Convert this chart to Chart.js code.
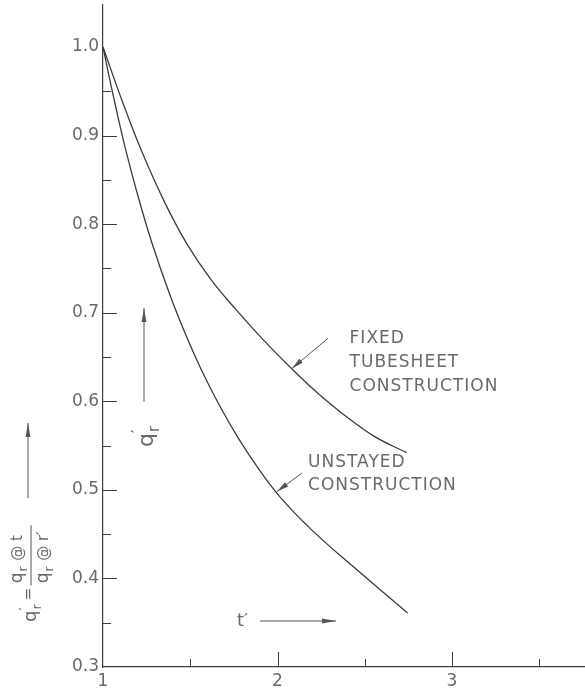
<!DOCTYPE html>
<html><head><meta charset="utf-8">
<script src="https://cdn.jsdelivr.net/npm/chart.js@4.4.1/dist/chart.umd.min.js"></script>
<style>html,body{margin:0;padding:0;background:#fff;overflow:hidden}#wrap{width:585px;height:691px;position:relative}</style>
</head><body><div id="wrap"><canvas id="c" width="585" height="691"></canvas></div>
<script>
// ---- data ----
const tFixed = [1.00, 1.11, 1.22, 1.35, 1.48, 1.62, 1.76, 1.92, 2.08, 2.22, 2.36, 2.55, 2.74];
const qFixed = [1.000, 0.939, 0.883, 0.826, 0.778, 0.737, 0.704, 0.669, 0.637, 0.611, 0.588, 0.561, 0.542];
const tUnstayed = [1.00, 1.05, 1.12, 1.20, 1.28, 1.38, 1.47, 1.56, 1.66, 1.77, 1.88, 2.01, 2.20, 2.43, 2.745];
const qUnstayed = [1.000, 0.953, 0.892, 0.832, 0.779, 0.722, 0.677, 0.637, 0.598, 0.560, 0.527, 0.493, 0.454, 0.414, 0.361];
const seriesNames = [["FIXED", "TUBESHEET", "CONSTRUCTION"], ["UNSTAYED", "CONSTRUCTION"]];
const xTickValues = [1, 2, 3];
const xTickLabels = ["1", "2", "3"];
const yTickValues = [0.3, 0.4, 0.5, 0.6, 0.7, 0.8, 0.9, 1.0];
const yTickLabels = ["0.3", "0.4", "0.5", "0.6", "0.7", "0.8", "0.9", "1.0"];
const xMinorTicks = [1.5, 2.5, 3.5];
const yInnerMajor = [0.4, 0.5, 0.6, 0.7, 0.8, 0.9];
const yInnerMinor = [0.35, 0.45, 0.55, 0.65, 0.75, 0.85, 0.95];
// annotation anchors (data units): [text t', text q, arrow start t', arrow start q, arrow tip t', arrow tip q]
const fixedNote = [2.413, 0.671, 2.289, 0.671, 2.082, 0.637];
const unstayedNote = [2.175, 0.531, 2.140, 0.519, 1.997, 0.498];

const INK = '#3c3c3c', TXT = '#6a6a6a';
const FONT = '"DejaVu Sans", sans-serif';

function pts(xs, ys){ return xs.map((x,i)=>({x:x, y:ys[i]})); }

function arrow(ctx, x0, y0, x1, y1, headLen, headW){
  ctx.beginPath(); ctx.moveTo(x0,y0); ctx.lineTo(x1,y1); ctx.stroke();
  const ang = Math.atan2(y1-y0, x1-x0);
  const bx = x1 - headLen*Math.cos(ang), by = y1 - headLen*Math.sin(ang);
  const px = -Math.sin(ang)*headW, py = Math.cos(ang)*headW;
  ctx.beginPath(); ctx.moveTo(x1,y1); ctx.lineTo(bx+px,by+py); ctx.lineTo(bx-px,by-py); ctx.closePath(); ctx.fill();
}

// draw "q" with optional prime and subscript r, at baseline-left (x,y) in current transform; returns width
function drawQ(ctx, x, y, size, prime){
  ctx.font = size + 'px ' + FONT;
  ctx.fillText('q', x, y);
  let w = ctx.measureText('q').width;
  const s = Math.round(size*0.7);
  ctx.font = s + 'px ' + FONT;
  if (prime) ctx.fillText('\u2032', x + w, y - size*0.45);
  ctx.fillText('r', x + w + 1, y + size*0.28);
  w += ctx.measureText('r').width + 2;
  return w;
}

const deco = {
  id: 'deco',
  afterDraw(chart){
    const ctx = chart.ctx, xs = chart.scales.x, ys = chart.scales.y;
    const L = chart.chartArea.left, B = chart.chartArea.bottom;
    ctx.save();
    ctx.strokeStyle = INK; ctx.fillStyle = INK; ctx.lineWidth = 1;
    // inward tick marks on the y axis
    yInnerMajor.forEach(v=>{ const y = Math.round(ys.getPixelForValue(v))+0.5; ctx.beginPath(); ctx.moveTo(L,y); ctx.lineTo(L+14,y); ctx.stroke(); });
    yInnerMinor.forEach(v=>{ const y = Math.round(ys.getPixelForValue(v))+0.5; ctx.beginPath(); ctx.moveTo(L,y); ctx.lineTo(L+8,y); ctx.stroke(); });
    // upward tick marks on the x axis
    xTickValues.slice(1).forEach(v=>{ const x = Math.round(xs.getPixelForValue(v))+0.5; ctx.beginPath(); ctx.moveTo(x,B); ctx.lineTo(x,B-15); ctx.stroke(); });
    xMinorTicks.forEach(v=>{ const x = Math.round(xs.getPixelForValue(v))+0.5; ctx.beginPath(); ctx.moveTo(x,B); ctx.lineTo(x,B-8); ctx.stroke(); });

    // curve annotations
    ctx.fillStyle = TXT; ctx.font = '17px ' + FONT; ctx.letterSpacing = '1px';
    ctx.textBaseline = 'middle'; ctx.textAlign = 'left';
    [[fixedNote, seriesNames[0], 24], [unstayedNote, seriesNames[1], 23]].forEach(([n, lines, lh])=>{
      const tx = xs.getPixelForValue(n[0]), ty = ys.getPixelForValue(n[1]);
      ctx.fillStyle = TXT;
      lines.forEach((s,i)=> ctx.fillText(s, tx, ty + i*lh));
      ctx.strokeStyle = '#555'; ctx.fillStyle = '#555';
      arrow(ctx, xs.getPixelForValue(n[2]), ys.getPixelForValue(n[3]), xs.getPixelForValue(n[4]), ys.getPixelForValue(n[5]), 12, 2.6);
    });
    ctx.letterSpacing = '0px';

    // inner axis label q'r with upward arrow
    ctx.strokeStyle = '#555'; ctx.fillStyle = '#555';
    arrow(ctx, L+41, 402, L+41, 308, 14, 2.4);
    ctx.save(); ctx.translate(L+50, 447); ctx.rotate(-Math.PI/2);
    ctx.fillStyle = TXT; ctx.textBaseline = 'alphabetic';
    drawQ(ctx, 0, 0, 22, true);
    ctx.restore();

    // t' label with arrow to the right
    ctx.fillStyle = TXT; ctx.font = '18px ' + FONT; ctx.textBaseline = 'middle';
    ctx.fillText('t\u2032', 237, 621);
    ctx.strokeStyle = '#555'; ctx.fillStyle = '#555';
    arrow(ctx, 260, 621, 336, 621, 14, 2.4);

    // outer axis label: q'r = (qr @ t)/(qr @ r') with arrow
    arrow(ctx, 28, 498, 28, 423, 14, 2.4);
    ctx.save(); ctx.translate(36, 622); ctx.rotate(-Math.PI/2);
    ctx.fillStyle = TXT; ctx.textBaseline = 'alphabetic';
    let w = drawQ(ctx, 0, 0, 18, true);
    ctx.font = '15px ' + FONT; ctx.fillText('=', w + 3, -3);
    const fx = w + 20;
    let wn = drawQ(ctx, fx, -14, 17, false);
    ctx.font = '15px ' + FONT; ctx.fillText(' @ t', fx + wn, -14);
    let wd = drawQ(ctx, fx, 12, 17, false);
    ctx.font = '15px ' + FONT; ctx.fillText(' @ r\u2032', fx + wd, 12);
    ctx.strokeStyle = '#555'; ctx.beginPath(); ctx.moveTo(fx - 2, -5); ctx.lineTo(fx + 58, -5); ctx.stroke();
    ctx.restore();

    ctx.restore();
  }
};

new Chart(document.getElementById('c'), {
  type: 'scatter',
  data: { datasets: [
    { label: seriesNames[0].join(' '), data: pts(tFixed, qFixed), showLine: true, borderColor: INK, borderWidth: 1.3, pointRadius: 0, tension: 0.4, fill: false },
    { label: seriesNames[1].join(' '), data: pts(tUnstayed, qUnstayed), showLine: true, borderColor: INK, borderWidth: 1.3, pointRadius: 0, tension: 0.4, fill: false }
  ]},
  options: {
    responsive: false, animation: false, devicePixelRatio: 1,
    layout: { padding: { top: 5, right: 0, bottom: 0, left: 0 } },
    plugins: { legend: { display: false }, tooltip: { enabled: false } },
    scales: {
      x: {
        type: 'linear', min: 1, max: 3.762,
        grid: { display: false, drawTicks: false },
        border: { display: true, color: INK, width: 1.2 },
        afterBuildTicks: s => { s.ticks = xTickValues.map(v=>({value:v})); },
        afterFit: s => { s.height = 24; s.paddingLeft = 0; s.paddingRight = 0; },
        ticks: { padding: 4, color: TXT, font: { family: FONT, size: 17 },
          callback: v => { const i = xTickValues.indexOf(v); return i >= 0 ? xTickLabels[i] : ''; } }
      },
      y: {
        type: 'linear', min: 0.3, max: 1.0474,
        grid: { display: false, drawTicks: false },
        border: { display: true, color: INK, width: 1.2 },
        afterBuildTicks: s => { s.ticks = yTickValues.map(v=>({value:v})); },
        afterFit: s => { s.width = 103; s.paddingTop = 0; s.paddingBottom = 0; },
        ticks: { padding: 4, color: TXT, font: { family: FONT, size: 17 },
          callback: v => { const i = yTickValues.findIndex(t=>Math.abs(t-v)<1e-6); return i >= 0 ? yTickLabels[i] : ''; } }
      }
    }
  },
  plugins: [deco]
});
</script>
</body></html>
